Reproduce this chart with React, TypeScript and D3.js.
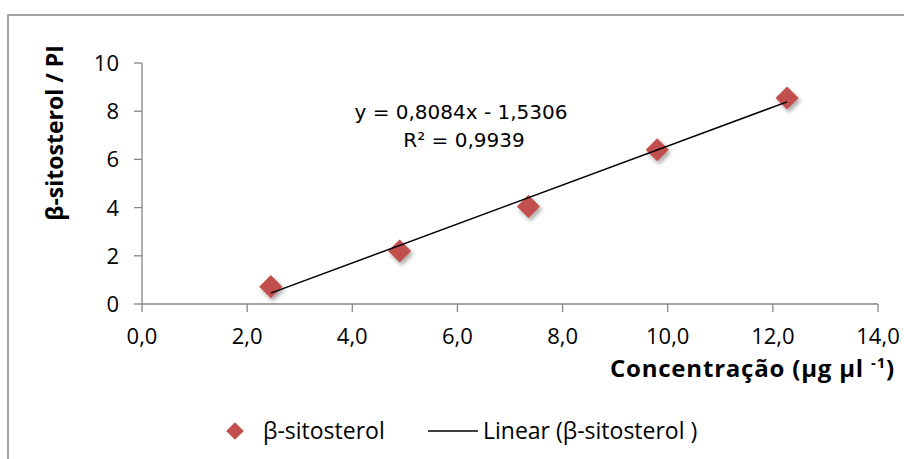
import React from "react";
import * as d3 from "d3";

const concentrations = [2.45, 4.9, 7.35, 9.8, 12.27];
const ratios = [0.72, 2.2, 4.05, 6.4, 8.55];
const xTicks = [0, 2, 4, 6, 8, 10, 12, 14];
const yTicks = [0, 2, 4, 6, 8, 10];
const slope = 0.8084;
const intercept = -1.5306;
const equationText = "y = 0,8084x - 1,5306";
const r2Text = "R² = 0,9939";
const seriesName = "β-sitosterol";
const trendName = "Linear (β-sitosterol )";
const yTitle = "β-sitosterol / PI";

const W = 904;
const H = 459;
const FONT = "'Open Sans', Lato, sans-serif";
const EQFONT = "'DejaVu Sans', Verdana, sans-serif";
const AXIS = "#868686";
const RED = "#C0504D";

export default function App() {
  const x = d3.scaleLinear().domain([0, 14]).range([142, 878]);
  const y = d3.scaleLinear().domain([0, 10]).range([304, 63]);
  const fmtX = (v: number) => v.toFixed(1).replace(".", ",");
  const diamond = d3.symbol().type(d3.symbolDiamond2 as any).size(340)();
  const xMin = d3.min(concentrations)!;
  const xMax = d3.max(concentrations)!;
  const line = d3.line<number>().x((d) => x(d)).y((d) => y(slope * d + intercept));

  return (
    <svg
      width={W}
      height={H}
      style={{ position: "absolute", left: 0, top: 0, display: "block", background: "#fff" }}
      fontFamily={FONT}
    >
      <defs>
        <filter id="sh" x="-50%" y="-50%" width="200%" height="200%">
          <feDropShadow dx="2" dy="3" stdDeviation="2" floodColor="#000" floodOpacity="0.35" />
        </filter>
      </defs>
      <rect x={8} y={15} width={W + 20} height={H + 20} fill="#fff" stroke={AXIS} strokeWidth={1.5} />

      {/* axes */}
      <line x1={x(0)} x2={x(14)} y1={y(0)} y2={y(0)} stroke={AXIS} strokeWidth={1.3} />
      <line x1={x(0)} x2={x(0)} y1={y(0)} y2={y(10)} stroke={AXIS} strokeWidth={1.3} />
      {xTicks.map((t) => (
        <g key={"x" + t}>
          <line x1={x(t)} x2={x(t)} y1={y(0)} y2={y(0) + 8} stroke={AXIS} strokeWidth={1.3} />
          <text x={x(t)} y={344} textAnchor="middle" fontSize={22} fill="#000">
            {fmtX(t)}
          </text>
        </g>
      ))}
      {yTicks.map((t) => (
        <g key={"y" + t}>
          <line x1={x(0) - 8} x2={x(0)} y1={y(t)} y2={y(t)} stroke={AXIS} strokeWidth={1.3} />
          <text x={119} y={y(t) + 8} textAnchor="end" fontSize={22} fill="#000">
            {t}
          </text>
        </g>
      ))}

      {/* markers */}
      {concentrations.map((c, i) => (
        <path
          key={"p" + i}
          d={diamond}
          transform={`translate(${x(c)},${y(ratios[i])})`}
          fill={RED}
          filter="url(#sh)"
        />
      ))}
      {/* trendline */}
      <path d={line([xMin, xMax]) || ""} stroke="#000" strokeWidth={1.5} fill="none" />

      {/* equation */}
      <text x={461} y={119} textAnchor="middle" fontSize={20} fill="#000" fontFamily={EQFONT}>
        {equationText}
      </text>
      <text x={464} y={147} textAnchor="middle" fontSize={20} fill="#000" fontFamily={EQFONT}>
        {r2Text}
      </text>

      {/* axis titles */}
      <text x={895} y={377} textAnchor="end" fontSize={24} fontWeight="bold" fill="#000" letterSpacing={0.8}>
        Concentração (μg μl{"\u00a0"}
        <tspan fontSize={15} dy={-9}>-1</tspan>
        <tspan dy={9}>)</tspan>
      </text>
      <text
        transform={`translate(63,133) rotate(-90)`}
        textAnchor="middle"
        fontSize={23}
        fontWeight="bold"
        fill="#000"
      >
        {yTitle}
      </text>

      {/* legend */}
      <path d={d3.symbol().type(d3.symbolDiamond2 as any).size(200)()} transform="translate(235,431)" fill={RED} />
      <text x={263} y={439} fontSize={23} fill="#000">
        {seriesName}
      </text>
      <line x1={428} x2={478} y1={431} y2={431} stroke="#000" strokeWidth={1.5} />
      <text x={483} y={439} fontSize={23} fill="#000">
        {trendName}
      </text>
    </svg>
  );
}
